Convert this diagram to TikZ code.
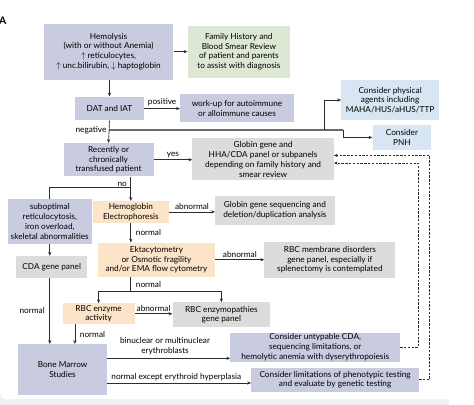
\documentclass[tikz,border=0pt]{standalone}
\usepackage{fontspec}
\setmainfont{Lato}
\usetikzlibrary{arrows.meta,positioning}

\definecolor{lavender}{RGB}{201,203,224}
\definecolor{sage}{RGB}{221,232,212}
\definecolor{paleblue}{RGB}{216,230,243}
\definecolor{boxgray}{RGB}{220,220,220}
\definecolor{peach}{RGB}{252,228,201}
\definecolor{linegray}{RGB}{45,45,45}

\begin{document}
\begin{tikzpicture}[x=1pt, y=-1pt, style={
  box/.style={
    font=\fontsize{8.7}{10.4}\selectfont,
    align=center,
    inner sep=1pt,
  },
  lavbox/.style={box, fill=lavender},
  sagebox/.style={box, fill=sage},
  bluebox/.style={box, fill=paleblue},
  graybox/.style={box, fill=boxgray},
  peachbox/.style={box, fill=peach},
  tag/.style={
    font=\fontsize{8.7}{10.4}\selectfont,
    align=center,
    inner sep=1pt,
  },
  myarrow/.style={-{Stealth[length=4pt, width=3.4pt]}, line width=0.7pt, draw=linegray},
  myline/.style={line width=0.7pt, draw=linegray},
  negline/.style={line width=2.4pt, draw=gray!85!black},
  dasharrow/.style={myarrow, dashed, dash pattern=on 2.5pt off 1.5pt}
}]
\fill[gray!12] (0,0) rectangle (474,407);
\fill[white, rounded corners=7pt] (0,-20) rectangle (500,401);
\useasboundingbox (0,0) rectangle (474,407);

\node[font=\bfseries\fontsize{11}{11}\selectfont, inner sep=0pt] (panel) at (3,2) {A};

\draw[]
  node[lavbox, minimum width=137pt, minimum height=59pt] (hemo) at (114.5,34.5) {
    Hemolysis\\(with or without Anemia)\\$\uparrow$ reticulocytes,\\
    $\uparrow$ unc.bilirubin, $\downarrow$ haptoglobin
  }
  node[sagebox, minimum width=108pt, minimum height=55pt] (family) at (252,34.5) {
    Family History and\\Blood Smear Review\\of patient and parents\\to assist with diagnosis
  }
  node[lavbox, minimum width=73pt, minimum height=25pt] (dat) at (115.5,94.5) {DAT and IAT}
  node[lavbox, minimum width=120pt, minimum height=30pt] (workup) at (250,94) {
    work-up for autoimmune\\or alloimmune causes
  }
  node[bluebox, minimum width=103pt, minimum height=43pt] (physical) at (411.5,85.5) {
    Consider physical\\agents including\\MAHA/HUS/aHUS/TTP
  }
  node[bluebox, minimum width=62pt, minimum height=26pt] (pnh) at (424,125) {Consider\\PNH}
  node[lavbox, minimum width=95pt, minimum height=35pt] (transf) at (114.5,148.5) {
    Recently or\\chronically\\transfused patient
  }
  node[graybox, minimum width=149pt, minimum height=44pt] (globin) at (277.5,148) {
    Globin gene and\\HHA/CDA panel or subpanels\\depending on family history and\\smear review
  }
  node[lavbox, minimum width=89pt, minimum height=47pt] (subopt) at (52.5,213.5) {
    suboptimal\\reticulocytosis,\\iron overload,\\skeletal abnormalities
  }
  node[peachbox, minimum width=80pt, minimum height=23pt] (hbelec) at (138,203.5) {
    Hemoglobin\\Electrophoresis
  }
  node[graybox, minimum width=126pt, minimum height=30pt] (globseq) at (290,202) {
    Globin gene sequencing and\\deletion/duplication analysis
  }
  node[peachbox, minimum width=124pt, minimum height=36pt] (ekta) at (165,254) {
    Ektacytometry\\or Osmotic fragility\\and/or EMA flow cytometry
  }
  node[graybox, minimum width=138pt, minimum height=38pt] (membrane) at (348,254) {
    RBC membrane disorders\\gene panel, especially if\\splenectomy is contemplated
  }
  node[graybox, minimum width=75pt, minimum height=23pt] (cda) at (54.5,261.5) {CDA gene panel}
  node[peachbox, minimum width=76pt, minimum height=22pt] (enzyme) at (104,311) {
    RBC enzyme\\activity
  }
  node[graybox, minimum width=103pt, minimum height=26pt] (enzymopathy) at (233.5,312) {
    RBC enzymopathies\\gene panel
  }
  node[lavbox, minimum width=94pt, minimum height=54pt] (marrow) at (66,370) {
    Bone Marrow\\Studies
  }
  node[lavbox, minimum width=179pt, minimum height=31pt] (untypable) at (332.5,346.5) {
    Consider untypable CDA,\\sequencing limitations, or\\hemolytic anemia with dyserythropoiesis
  }
  node[lavbox, minimum width=177pt, minimum height=25pt] (limits) at (353.5,380.5) {
    Consider limitations of phenotypic testing\\and evaluate by genetic testing
  }
;

\coordinate (negsplit) at (dat.south |- 0,117);
\coordinate (negup) at (342,117);
\coordinate (negdown) at (362,117);
\coordinate (nosplit) at (hbelec.north |- 0,178);
\coordinate (ektasplit) at (hbelec.south |- 0,287);
\coordinate (binuc) at ([yshift=12pt]marrow.east);
\coordinate (hyper) at ([yshift=-14pt]marrow.east);

\draw[myarrow] (hemo.east |- family.west) -- (family.west);
\draw[myarrow] (hemo.south -| dat.north) -- (dat.north);
\draw[myarrow] (dat.east) -- (dat.east -| workup.west)
  node[tag, midway, above=1pt] (positive) {positive};
\draw[negline] (negsplit) -- (negdown);
\draw[myarrow] (dat.south) -- (transf.north);
\node[tag, left=2pt] (negative) at (negsplit) {negative};
\draw[myarrow] (negup) |- (physical.west);
\draw[myarrow] (negdown) |- (pnh.west);
\draw[myarrow] (transf.east) -- (transf.east -| globin.west)
  node[tag, midway, above=1pt] (yes) {yes};
\draw[myarrow] (transf.south -| hbelec.north) -- (hbelec.north);
\node[tag, above left=0pt and 3pt] (no) at (nosplit) {no};
\draw[myline] (nosplit) -| (subopt.north);
\draw[myarrow] (hbelec.east) -- (hbelec.east -| globseq.west)
  node[tag, midway, above=1pt] (abn1) {abnormal};
\draw[myarrow] (hbelec.south) -- (hbelec.south |- ekta.north)
  node[tag, midway, right=4pt] (norm1) {normal};
\draw[myarrow] (ekta.east) -- (ekta.east -| membrane.west)
  node[tag, midway, above=1pt] (abn2) {abnormal};
\draw[myarrow] (subopt.south) -- (subopt.south |- cda.north);
\draw[myline] (hbelec.south |- ekta.south) -- (ektasplit)
  node[tag, midway, right=4pt] (norm2) {normal};
\draw[myarrow] (ektasplit) -| (enzyme.north);
\draw[myarrow] (ektasplit) -| (enzymopathy.north);
\draw[myarrow] (enzyme.east) -- (enzyme.east -| enzymopathy.west)
  node[tag, midway, above=1pt] (abn3) {abnormal};
\draw[myarrow] ([xshift=-25pt]enzyme.south) -- ([xshift=-25pt]enzyme.south |- marrow.north)
  node[tag, midway, right=4pt] (norm3) {normal};
\draw[myarrow] (cda.south -| subopt.south) -- (subopt.south |- marrow.north)
  node[tag, midway, left=4pt] (norm4) {normal};
\draw[myarrow] (binuc) -- (binuc -| untypable.west)
  node[tag, pos=0.47, above=2pt] (binuclabel) {binuclear or multinuclear\\erythroblasts};
\draw[myarrow] (hyper) -- (hyper -| limits.west)
  node[tag, pos=0.48, above=1pt] (hyperlabel) {normal except erythroid hyperplasia};
\draw[dasharrow] (limits.east) -- ++(11,0) |- ([yshift=4pt]globin.east);
\draw[dasharrow] (untypable.east) -- ++(19,0) |- ([yshift=-4pt]globin.east);
\end{tikzpicture}
\end{document}
